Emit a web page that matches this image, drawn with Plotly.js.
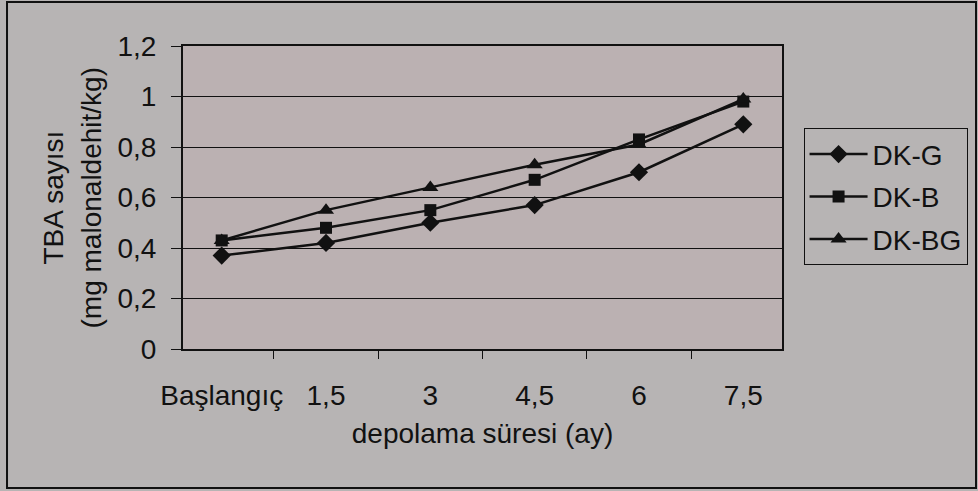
<!DOCTYPE html>
<html>
<head>
<meta charset="utf-8">
<script src="https://cdn.plot.ly/plotly-3.0.1.min.js"></script>
<style>
html,body{margin:0;padding:0;background:#b7b4b4;}
#chart{width:978px;height:491px;}
</style>
</head>
<body>
<div id="chart"></div>
<script>
var categories = ["Başlangıç", "1,5", "3", "4,5", "6", "7,5"];
var seriesNames = ["DK-G", "DK-B", "DK-BG"];
var dkG  = [0.37, 0.42, 0.50, 0.57, 0.70, 0.89];
var dkB  = [0.43, 0.48, 0.55, 0.67, 0.83, 0.98];
var dkBG = [0.43, 0.55, 0.64, 0.73, 0.81, 0.99];
var yTitleLines = ["TBA sayısı", "(mg malonaldehit/kg)"];
var xTitle = "depolama süresi (ay)";

var font = {family: "Liberation Sans, Arial, sans-serif", size: 28, color: "#111"};

function tr(name, y, sym, size) {
  return {
    type: "scatter", mode: "lines+markers", name: name,
    x: categories, y: y, legendgroup: name,
    line: {color: "#111", width: 2.5},
    marker: {symbol: sym, size: size, color: "#111"}
  };
}
var data = [
  tr(seriesNames[0], dkG, "diamond", 14),
  tr(seriesNames[1], dkB, "square", 12),
  tr(seriesNames[2], dkBG, "triangle-up", 14)
];

var layout = {
  width: 978, height: 491,
  margin: {l: 183, r: 196, t: 46, b: 142, autoexpand: false},
  paper_bgcolor: "#b7b4b4",
  plot_bgcolor: "#bbb1b2",
  separators: ",.",
  font: font,
  showlegend: true,
  legend: {
    x: 1.036, xanchor: "left", y: 0.728, yanchor: "top",
    bordercolor: "#111", borderwidth: 1, bgcolor: "rgba(0,0,0,0)",
    font: font, traceorder: "grouped", tracegroupgap: 3,
    itemwidth: 58
  },
  xaxis: {
    type: "category", tickson: "boundaries", tickangle: 0,
    ticks: "outside", ticklen: 8, tickcolor: "#111",
    showline: true, linecolor: "#111", linewidth: 2, mirror: true,
    showgrid: false, tickfont: font, automargin: false,
    ticklabelstandoff: 20,
    title: {text: xTitle, font: font, standoff: 14}
  },
  yaxis: {
    range: [0, 1.2], dtick: 0.2, tick0: 0,
    ticks: "outside", ticklen: 10, tickcolor: "#111",
    showline: true, linecolor: "#111", linewidth: 2, mirror: true,
    showgrid: true, gridcolor: "#111", gridwidth: 1,
    zeroline: false, tickfont: font, ticklabelstandoff: 9, automargin: false
  },
  annotations: [
    {text: yTitleLines[0], xref: "paper", yref: "paper", x: -0.217, y: 0.5,
     textangle: -90, showarrow: false, font: font, xanchor: "center", yanchor: "middle"},
    {text: yTitleLines[1], xref: "paper", yref: "paper", x: -0.152, y: 0.5,
     textangle: -90, showarrow: false, font: font, xanchor: "center", yanchor: "middle"}
  ],
  shapes: [
    {type: "rect", xref: "paper", yref: "paper",
     x0: -0.2938, x1: 1.3239, y0: -0.4587, y1: 1.1452,
     line: {color: "#111", width: 2}, fillcolor: "rgba(0,0,0,0)", layer: "below"}
  ]
};

Plotly.newPlot("chart", data, layout, {displayModeBar: false, staticPlot: true});
</script>
</body>
</html>
